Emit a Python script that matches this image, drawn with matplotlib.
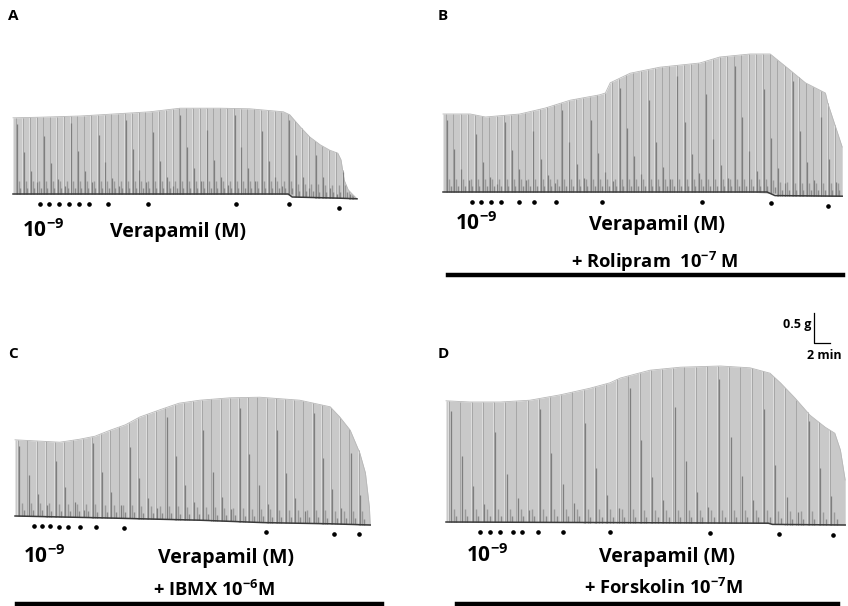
import numpy as np
import matplotlib
matplotlib.use("Agg")
import matplotlib.pyplot as plt
from matplotlib.lines import Line2D

plt.rcParams['font.family'] = ['Open Sans', 'DejaVu Sans']
plt.rcParams['mathtext.fontset'] = 'custom'
plt.rcParams['mathtext.rm'] = 'Open Sans'
plt.rcParams['mathtext.bf'] = 'Open Sans:bold'

# ---------------- data (time in min, tension in g, relative to initial baseline) -------------
# Panel A : Verapamil alone
A_env_t = [0, 3.4, 8.4, 10.9, 17.1, 20.9, 25.9, 29.6, 33.8, 34.6, 35.9, 37.1, 38.4, 39.6, 40.6, 41.0, 41.4, 41.9, 42.4, 43.0]
A_env_f = [1.27, 1.28, 1.30, 1.32, 1.37, 1.43, 1.43, 1.42, 1.37, 1.32, 1.12, 0.95, 0.82, 0.73, 0.68, 0.57, 0.23, 0.07, 0.0, -0.08]
A_base_t = [0, 34.4, 34.9, 40.9, 43.0]
A_base_f = [0, 0, -0.05, -0.07, -0.08]
A_dots = [3.4, 4.5, 5.8, 7.0, 8.3, 9.5, 11.9, 16.9, 27.9, 34.5, 40.8]

# Panel B : + Rolipram 1e-7 M
B_env_t = [0, 3.4, 5.3, 9.6, 12.8, 15.9, 19.6, 20.3, 20.9, 23.4, 27.1, 32.1, 34.6, 38.4, 40.9, 43.4, 45.3, 47.8, 48.1, 49.9]
B_env_f = [1.30, 1.30, 1.25, 1.30, 1.40, 1.53, 1.62, 1.65, 1.82, 1.98, 2.08, 2.15, 2.25, 2.30, 2.30, 2.03, 1.82, 1.65, 1.48, 0.75]
B_base_t = [0, 40.5, 41.5, 49.9]
B_base_f = [0, 0, -0.06, -0.07]
B_dots = [3.6, 4.8, 6.0, 7.3, 9.5, 11.4, 14.1, 19.9, 32.4, 41.0, 48.1]

# Panel C : + IBMX 1e-6 M
C_env_t = [0, 5.6, 8.1, 10.0, 11.9, 13.8, 15.6, 18.1, 20.5, 23.1, 26.9, 30.6, 35.6, 39.4, 40.6, 41.9, 43.1, 43.8, 44.3, 44.4]
C_env_f = [1.27, 1.23, 1.28, 1.33, 1.43, 1.52, 1.65, 1.77, 1.88, 1.93, 1.97, 1.98, 1.93, 1.82, 1.65, 1.43, 1.05, 0.72, 0.15, -0.15]
C_base_t = [0, 10.6, 23.1, 31.0, 39.4, 44.4]
C_base_f = [0, -0.03, -0.07, -0.11, -0.13, -0.15]
C_dots = [2.4, 3.4, 4.4, 5.5, 6.6, 8.1, 10.1, 13.6, 31.4, 39.9, 43.0]

# Panel D : + Forskolin 1e-7 M
D_env_t = [0, 3.0, 6.8, 10.5, 14.3, 18.0, 20.5, 21.8, 25.5, 29.3, 34.3, 38.0, 40.5, 41.8, 43.6, 45.5, 47.4, 48.6, 49.3, 49.9]
D_env_f = [2.02, 2.00, 2.00, 2.03, 2.12, 2.23, 2.32, 2.40, 2.53, 2.58, 2.60, 2.57, 2.48, 2.32, 2.07, 1.78, 1.58, 1.48, 1.20, 0.70]
D_base_t = [0, 40.3, 40.8, 49.9]
D_base_f = [0, -0.02, -0.04, -0.05]
D_dots = [4.3, 5.5, 6.8, 8.4, 9.5, 11.5, 14.6, 20.5, 33.0, 41.6, 48.4]

panel_letters = ['A', 'B', 'C', 'D']
treatments = [None, 'Rolipram', 'IBMX', 'Forskolin']
treat_exp = [None, '-7', '-6', '-7']
drug_label = 'Verapamil (M)'
first_conc = '-9'
scale_g = 0.5
scale_min = 2

# ---------------- layout (pixels) ----------------
W, H = 848, 606
PX_MIN, PX_G = 8.0, 60.0
fig = plt.figure(figsize=(W / 100, H / 100), dpi=100)
fig.patch.set_facecolor('white')

def fx(px):
    return px / W

def fy(py):
    return 1 - py / H

def make_axes(x0, yref, top, bottom, right):
    left = x0 - 5
    ax = fig.add_axes([fx(left), fy(bottom), (right - left) / W, (bottom - top) / H])
    ax.set_xlim((left - x0) / PX_MIN, (right - x0) / PX_MIN)
    ax.set_ylim((yref - bottom) / PX_G, (yref - top) / PX_G)
    ax.axis('off')
    return ax

spacing = [0.85, 0.9, 1.15, 1.4]
frac_pattern = [0.92, 0.55, 0.3, 0.15, 0.75, 0.4, 0.2, 0.1]

def draw_trace(ax, et, ef, bt, bf, dots, sp):
    et = np.asarray(et, float); ef = np.asarray(ef, float)
    bt = np.asarray(bt, float); bf = np.asarray(bf, float)
    base_at_env = np.interp(et, bt, bf)
    ax.fill_between(et, base_at_env, ef, color='#c9c9c9', lw=0, zorder=1)
    ts = np.arange(0.4, et[-1] - sp * 0.7, sp)
    top = np.interp(ts, et, ef)
    bot = np.interp(ts, bt, bf)
    ax.vlines(ts - sp * 0.08, bot, top, color='#e2e2e2', lw=0.6, zorder=2)
    ax.vlines(ts, bot, top, color='#a6a6a6', lw=0.7, zorder=2)
    fr = np.resize(frac_pattern, len(ts))
    ax.vlines(ts + sp * 0.12, bot, bot + fr * (top - bot), color='#7e7e7e', lw=0.9, zorder=3)
    ax.vlines(ts + sp * 0.4, bot, bot + np.minimum(0.22, 0.5 * (top - bot)), color='#9a9a9a', lw=1.0, zorder=3)
    ax.vlines(ts + sp * 0.6, bot, bot + np.minimum(0.1, 0.3 * (top - bot)), color='#8a8a8a', lw=1.0, zorder=3)
    ax.plot(et, ef, color='#b8b8b8', lw=0.6, zorder=2)
    ax.plot(bt, bf, color='#3a3a3a', lw=1.1, zorder=4)
    d = np.asarray(dots, float)
    ax.plot(d, np.interp(d, bt, bf) - 0.16, 'o', ms=2.3, color='black', zorder=5)

axA = make_axes(13, 194, 40, 215, 365)
draw_trace(axA, A_env_t, A_env_f, A_base_t, A_base_f, A_dots, spacing[0])
axB = make_axes(443, 192, 30, 215, 848)
draw_trace(axB, B_env_t, B_env_f, B_base_t, B_base_f, B_dots, spacing[1])
axC = make_axes(15, 516, 370, 540, 380)
draw_trace(axC, C_env_t, C_env_f, C_base_t, C_base_f, C_dots, spacing[2])
axD = make_axes(446, 522, 300, 545, 848)
draw_trace(axD, D_env_t, D_env_f, D_base_t, D_base_f, D_dots, spacing[3])

# scale bar in panel D (data units)
sb_t, sb_f = 46.0, 2.98
axD.plot([sb_t, sb_t, sb_t + scale_min], [sb_f + scale_g, sb_f, sb_f], color='black', lw=0.9, clip_on=False)
axD.text(sb_t - 0.3, sb_f + scale_g * 0.62, f'{scale_g} g', ha='right', va='center', fontsize=9, fontweight='bold')
axD.text(sb_t + scale_min / 2 + 0.3, sb_f - 0.1, f'{scale_min} min', ha='center', va='top', fontsize=9, fontweight='bold')

# panel letters
for (x, y), lab in zip([(8, 16), (438, 16), (8, 354), (438, 354)], panel_letters):
    fig.text(fx(x), fy(y), lab, fontsize=11, fontweight='bold', ha='left', va='center')

def conc_text(x, y):
    fig.text(fx(x), fy(y), r'$\mathbf{10^{' + first_conc + '}}$', fontsize=15, ha='left', va='center')

def drug_text(xc, y):
    fig.text(fx(xc), fy(y), drug_label, fontsize=14, fontweight='bold', ha='center', va='center')

conc_text(22, 231); drug_text(178, 232)
conc_text(455, 224); drug_text(657, 225)
conc_text(23, 557); drug_text(226, 558)
conc_text(466, 556); drug_text(667, 557)

treat_pos = [None, (655, 262), (214, 590), (663, 588)]
for i in (1, 2, 3):
    x, y = treat_pos[i]
    sep = '  ' if i == 1 else ' '
    s = '+ ' + treatments[i] + sep + r'10$^{\mathbf{' + treat_exp[i] + '}}$' + ('' if i > 1 else ' ') + 'M'
    fig.text(fx(x), fy(y), s, fontsize=13.2, fontweight='bold', ha='center', va='center')

for (x0, x1, y) in [(448, 843, 275), (17, 382, 604), (457, 838, 604)]:
    fig.add_artist(Line2D([fx(x0), fx(x1)], [fy(y), fy(y)], color='black', lw=3.2, transform=fig.transFigure))

fig.savefig('out.png', dpi=100, facecolor='white')
